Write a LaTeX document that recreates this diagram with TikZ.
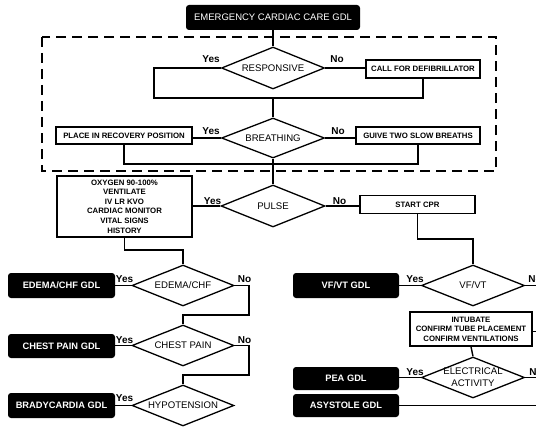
\documentclass[tikz,border=0pt]{standalone}
\usepackage{fontspec}
\setmainfont{Liberation Sans}
\usetikzlibrary{shapes.geometric,calc}
\begin{document}
\begin{tikzpicture}[x=1pt,y=-1pt,
  ln/.style={line width=1.4pt},
  dia/.style={diamond, draw, line width=1.3pt, minimum width=103pt, minimum height=41pt, inner sep=0pt},
  bx/.style={draw, line width=1.4pt, inner sep=0pt, font=\fontsize{7.8}{9.6}\selectfont\bfseries, align=center},
  gdl/.style={fill=black, rounded corners=3pt, text=white, inner sep=0pt, minimum width=106pt, font=\fontsize{9.3}{11}\selectfont\bfseries},
  yn/.style={font=\fontsize{10}{12}\selectfont\bfseries, inner sep=0pt},
  dtxt/.style={font=\fontsize{9.6}{12.3}\selectfont, align=center, inner sep=0pt}]
\clip (0,0) rectangle (536,428);
\fill[white] (0,0) rectangle (536,428);

% title and dashed frame
\node[gdl, minimum width=174pt, minimum height=25pt, font=\fontsize{9.5}{11}\selectfont] (title) at (273,17.5) {EMERGENCY CARDIAC CARE GDL};
\draw[line width=1.6pt, dash pattern=on 10pt off 6pt] (42,37) rectangle (496,171);

% decisions
\node[dia, minimum height=42pt, label={[dtxt]center:RESPONSIVE}] (resp) at (273,68) {};
\node[dia, minimum height=40pt, label={[dtxt]center:BREATHING}] (breath) at (273,138) {};
\node[dia, minimum width=104pt, minimum height=42pt, label={[dtxt]center:PULSE}] (pulse) at (273,206) {};
\node[dia, minimum width=102pt, label={[dtxt]center:EDEMA/CHF}] (edema) at (183,285.5) {};
\node[dia, minimum width=102pt, label={[dtxt]center:CHEST PAIN}] (chest) at (183,345.5) {};
\node[dia, minimum width=102pt, label={[dtxt]center:HYPOTENSION}] (hypo) at (183,405.5) {};
\node[dia, label={[dtxt]center:VF/VT}] (vfvt) at (473,285.5) {};
\node[dia, label={[dtxt]center:ELECTRICAL\\ACTIVITY}] (elec) at (473,377.5) {};

% boxes
\node[bx, minimum width=114pt, minimum height=18pt] (defib) at (423,69) {CALL FOR DEFIBRILLATOR};
\node[bx, minimum width=136pt, minimum height=17pt] (rec) at (124,135.5) {PLACE IN RECOVERY POSITION};
\node[bx, minimum width=124pt, minimum height=17pt] (guive) at (418,135.5) {GUIVE TWO SLOW BREATHS};
\node[bx, minimum width=135pt, minimum height=61pt] (oxy) at (124.5,206.5) {OXYGEN 90-100\%\\VENTILATE\\IV LR KVO\\CARDIAC MONITOR\\VITAL SIGNS\\HISTORY};
\node[bx, minimum width=115pt, minimum height=17.5pt] (cpr) at (417.5,204.5) {START CPR};
\node[bx, minimum width=122pt, minimum height=34pt] (intub) at (471,329) {INTUBATE\\CONFIRM TUBE PLACEMENT\\CONFIRM VENTILATIONS};

% guideline boxes
\node[gdl, minimum width=107pt, minimum height=25pt] (egdl) at (61.5,285.5) {EDEMA/CHF GDL};
\node[gdl, minimum width=107pt, minimum height=24pt] (cgdl) at (61.5,346) {CHEST PAIN GDL};
\node[gdl, minimum width=107pt, minimum height=25pt] (bgdl) at (61.5,405.5) {BRADYCARDIA GDL};
\node[gdl, minimum height=25pt] (vgdl) at (346,285.5) {VF/VT GDL};
\node[gdl, minimum height=23pt] (pgdl) at (346,378.5) {PEA GDL};
\node[gdl, minimum height=23pt] (agdl) at (346,405.5) {ASYSTOLE GDL};

% free ends and junctions
\coordinate (j1) at (273,98);
\coordinate (j2) at (273,164);
\coordinate (e1) at (545,285.5);
\coordinate (e2) at (545,331.7);
\coordinate (e3) at (545,377.5);
\coordinate (e4) at (545,405.5);

% connectors
\draw[ln] (title.south) -- (resp.north);
\draw[ln] (resp.east) -- (resp.east -| defib.west);
\draw[ln] (resp.west) -| (154,98) -| (defib.south);
\draw[ln] (j1) -- (breath.north);
\draw[ln] (breath.west) -- (breath.west -| rec.east);
\draw[ln] (breath.east) -- (breath.east -| guive.west);
\draw[ln] (rec.south) |- (j2) -| (guive.south);
\draw[ln] (breath.south) -- (pulse.north);
\draw[ln] (pulse.west) -- (pulse.west -| oxy.east);
\draw[ln] (pulse.east) -- (pulse.east -| cpr.west);
\draw[ln] (oxy.south) |- (183,250) -- (edema.north);
\draw[ln] (cpr.south) |- (473,239) -- (vfvt.north);
\draw[ln] (edema.west) -- (egdl.east);
\draw[ln] (edema.east) -| (249,315) -| (chest.north);
\draw[ln] (chest.west) -- (chest.west -| cgdl.east);
\draw[ln] (chest.east) -| (249,375) -| (hypo.north);
\draw[ln] (hypo.west) -- (bgdl.east);
\draw[ln] (vfvt.west) -- (vgdl.east);
\draw[ln] (vfvt.east) -- (e1);
\draw[ln] (intub.east |- e2) -- (e2);
\draw[ln] (intub.south) -- (elec.north);
\draw[ln] (elec.west) -- (elec.west -| pgdl.east);
\draw[ln] (elec.east) -- (e3);
\draw[line width=1.8pt] (agdl.east) -- (e4);

% yes / no labels
\node[yn, anchor=base east] at ($(resp.west)+(-1,-5)$) {Yes};
\node[yn, anchor=base west] at ($(resp.east)+(5,-5)$) {No};
\node[yn, anchor=base east] at ($(breath.west)+(-1,-4)$) {Yes};
\node[yn, anchor=base west] at ($(breath.east)+(6,-4)$) {No};
\node[yn, anchor=base east] at ($(pulse.west)+(1,-2)$) {Yes};
\node[yn, anchor=base west] at ($(pulse.east)+(7,-2)$) {No};
\node[yn, anchor=base east] at ($(edema.west)+(2,-3)$) {Yes};
\node[yn, anchor=base west] at ($(edema.east)+(3,-3)$) {No};
\node[yn, anchor=base east] at ($(chest.west)+(2,-2.5)$) {Yes};
\node[yn, anchor=base west] at ($(chest.east)+(3,-2.5)$) {No};
\node[yn, anchor=base east] at ($(hypo.west)+(2,-4)$) {Yes};
\node[yn, anchor=base east] at ($(vfvt.west)+(3,-3)$) {Yes};
\node[yn, anchor=base west] at ($(vfvt.east)+(3,-3)$) {No};
\node[yn, anchor=base east] at ($(elec.west)+(3,-2.5)$) {Yes};
\node[yn, anchor=base west] at ($(elec.east)+(4,-2.5)$) {No};
\end{tikzpicture}
\end{document}
